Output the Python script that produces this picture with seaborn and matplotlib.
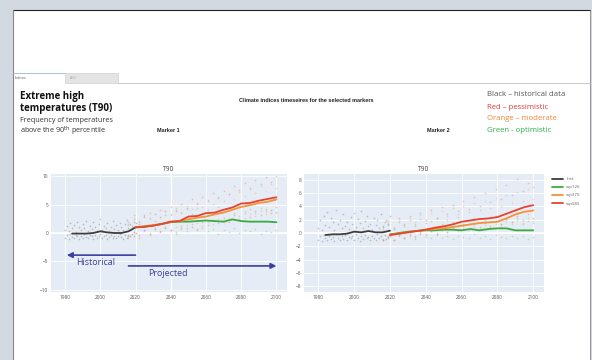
import numpy as np
import pandas as pd
import matplotlib.pyplot as plt
import seaborn as sns
from matplotlib.patches import Rectangle
from matplotlib.lines import Line2D

# running-mean lines
HIST_YEARS = [1984, 1988, 1992, 1996, 2000, 2004, 2008, 2012, 2016, 2020]
PROJ_YEARS = list(range(2020, 2101, 5))

m1_hist = [-0.1, -0.1, -0.1, 0.0, 0.3, 0.1, 0.0, 0.0, 0.3, 1.0]
m1_ssp126 = [1.0, 1.1, 1.3, 1.6, 1.9, 2.0, 2.0, 2.1, 2.2, 2.1, 2.0, 2.4, 2.1, 2.0, 2.0, 2.0, 1.9]
m1_ssp370 = [1.0, 1.2, 1.4, 1.6, 2.0, 2.1, 2.4, 2.7, 2.9, 3.3, 3.6, 4.1, 4.6, 4.9, 5.3, 5.5, 5.9]
m1_ssp585 = [1.0, 1.1, 1.3, 1.6, 2.0, 2.1, 2.9, 3.0, 3.5, 3.6, 4.1, 4.5, 5.2, 5.3, 5.7, 6.0, 6.3]

m2_hist = [-0.3, -0.2, -0.2, -0.1, 0.2, 0.1, 0.3, 0.1, 0.1, 0.35]
m2_ssp126 = [-0.2, 0.0, 0.2, 0.3, 0.4, 0.4, 0.5, 0.5, 0.4, 0.6, 0.4, 0.6, 0.7, 0.7, 0.4, 0.4, 0.4]
m2_ssp370 = [-0.3, -0.1, 0.1, 0.3, 0.5, 0.6, 0.7, 0.9, 1.1, 1.3, 1.5, 1.6, 1.7, 2.2, 2.8, 3.2, 3.4]
m2_ssp585 = [-0.3, -0.1, 0.1, 0.3, 0.5, 0.8, 1.0, 1.3, 1.7, 1.9, 2.1, 2.2, 2.4, 2.9, 3.4, 3.9, 4.2]

# scattered yearly values (two readings per year)
PT_HIST_YEARS = list(range(1980, 2021))
PT_PROJ_YEARS = list(range(2016, 2101, 3))

m1_pts_hist_a = [0.6, 1.2, 0.3, 1.8, 0.9, 1.4, 0.2, 2.0, 1.1, 0.5, 1.6, 0.8, 2.2, 0.4, 1.3, 0.7, 1.9, 1.0, 0.3, 1.5, 2.4,
                 0.6, 1.2, 0.9, 1.7, 0.4, 1.1, 2.1, 0.7, 1.4, 0.5, 1.8, 1.0, 0.6, 1.5, 2.3, 0.9, 1.6, 1.2, 2.0, 1.8]
m1_pts_hist_b = [-0.8, -0.4, -1.0, -0.2, -0.7, -0.9, -0.3, -0.6, -1.0, -0.5, -0.8, -0.1, -0.7, -0.9, -0.4, -0.6, -1.0,
                 -0.3, -0.8, -0.5, -0.2, -0.9, -0.6, -0.4, -1.0, -0.7, -0.3, -0.8, -0.5, -0.9, -0.6, -0.2, -0.7, -1.0,
                 -0.4, -0.8, -0.3, -0.6, -0.1, -0.5, 0.0]
m1_pts_585_a = [2.0, 3.2, 1.5, 2.8, 3.5, 2.2, 4.0, 3.1, 4.6, 3.8, 5.2, 4.4, 6.0, 5.1, 6.3, 5.6, 7.0, 6.2, 7.4, 6.8, 8.2,
                7.5, 8.8, 7.9, 9.3, 8.6, 9.8, 9.0, 10.0]
m1_pts_585_b = [-0.6, 0.2, -0.8, 0.5, -0.3, 0.8, 0.1, 1.0, 0.6, -0.2, 1.2, 0.9, 1.6, 0.7, 2.0, 1.4, 2.3, 1.7, 2.6, 2.0,
                3.1, 2.4, 3.5, 2.9, 3.9, 3.2, 4.3, 3.6, 4.6]
m1_pts_370_a = [1.6, 2.6, 2.1, 3.0, 2.4, 3.4, 2.8, 3.9, 3.3, 4.4, 3.7, 4.8, 4.2, 5.3, 4.6, 5.9, 5.1, 6.3, 5.6, 6.8, 6.0,
                7.3, 6.5, 7.8, 7.0, 8.2, 7.4, 8.6, 7.9]
m1_pts_370_b = [-0.9, 0.0, -0.5, 0.4, -0.2, 0.6, 0.3, 0.9, 0.5, 1.1, 0.7, 1.4, 1.0, 1.7, 1.3, 2.0, 1.6, 2.4, 1.9, 2.7,
                2.3, 3.0, 2.6, 3.4, 3.0, 3.8, 3.3, 4.1, 3.6]
m1_pts_126_a = [1.4, 2.5, 2.0, 3.1, 2.6, 3.4, 2.9, 3.8, 3.2, 4.0, 3.5, 4.2, 3.3, 4.4, 3.6, 4.1, 3.4, 4.5, 3.7, 4.2, 3.5,
                4.6, 3.8, 4.3, 3.6, 4.4, 3.9, 4.1, 3.7]
m1_pts_126_b = [-0.7, 0.1, -0.4, 0.5, 0.0, 0.7, 0.3, 0.9, 0.6, 0.2, 0.8, 0.4, 1.0, 0.5, 0.9, 0.3, 0.7, -0.1, 0.6, 0.2,
                0.8, 0.0, 0.5, 0.3, 0.7, -0.2, 0.4, 0.1, 0.6]

m2_pts_hist_a = [0.8, 1.9, 0.5, 2.6, 1.2, 3.1, 0.9, 2.2, 1.6, 0.4, 3.4, 1.3, 2.0, 0.7, 2.8, 1.1, 1.7, 0.6, 2.4, 1.4, 3.0,
                 0.9, 2.1, 1.5, 3.3, 0.8, 1.8, 2.6, 1.0, 1.4, 0.5, 2.3, 1.2, 1.9, 0.7, 2.9, 1.1, 1.6, 2.0, 1.3, 2.5]
m2_pts_hist_b = [-1.0, -0.5, -1.2, -0.3, -0.8, -1.1, -0.4, -0.9, -0.6, -1.2, -0.2, -0.7, -1.0, -0.5, -0.9, -0.3, -1.1,
                 -0.6, -0.8, -0.4, -1.0, -0.2, -0.7, -1.2, -0.5, -0.9, -0.3, -0.8, -0.6, -1.1, -0.4, -0.7, -1.0, -0.2,
                 -0.8, -0.5, -1.1, -0.3, -0.9, -0.6, -0.4]
m2_pts_585_a = [0.9, 1.8, 0.6, 2.2, 1.4, 2.6, 1.1, 3.0, 1.9, 3.4, 2.3, 3.9, 2.8, 4.2, 3.3, 4.8, 3.6, 5.4, 4.1, 6.0, 4.7,
                6.6, 5.2, 7.2, 5.8, 8.2, 6.4, 7.6, 6.9]
m2_pts_585_b = [-1.1, -0.7, -1.0, -0.4, -0.8, -0.2, -0.6, 0.0, -0.3, 0.3, -0.1, 0.5, 0.2, 0.8, 0.4, 1.0, 0.6, 1.3, 0.9,
                1.5, 1.1, 1.8, 1.4, 2.1, 1.7, 2.5, 2.0, 2.8, 2.3]
m2_pts_370_a = [0.7, 1.5, 0.9, 1.9, 1.2, 2.3, 1.6, 2.7, 1.9, 3.0, 2.2, 3.3, 2.5, 3.7, 2.8, 4.1, 3.1, 4.5, 3.4, 4.9, 3.8,
                5.3, 4.1, 5.8, 4.5, 6.2, 4.9, 6.6, 5.2]
m2_pts_370_b = [-1.0, -0.6, -1.1, -0.3, -0.7, -0.1, -0.5, 0.1, -0.2, 0.3, 0.0, 0.4, 0.2, 0.6, 0.3, 0.8, 0.5, 1.0, 0.7,
                1.2, 0.9, 1.4, 1.1, 1.7, 1.3, 2.0, 1.5, 2.2, 1.8]
m2_pts_126_a = [0.5, 1.2, 0.8, 1.6, 1.0, 1.9, 1.3, 2.1, 1.5, 1.8, 2.3, 1.4, 2.0, 1.7, 2.4, 1.3, 1.9, 2.2, 1.5, 2.0, 1.7,
                2.5, 1.4, 1.9, 1.6, 2.2, 1.3, 1.8, 1.5]
m2_pts_126_b = [-0.9, -0.5, -1.0, -0.3, -0.7, -0.4, -0.9, -0.2, -0.6, -0.8, -0.3, -0.7, -0.5, -0.9, -0.4, -0.6, -0.8,
                -0.2, -0.7, -0.5, -0.9, -0.3, -0.6, -0.8, -0.4, -0.7, -0.5, -0.9, -0.6]

X_TICKS = [1980, 2000, 2020, 2040, 2060, 2080, 2100]
M1_Y_TICKS = [-10, -5, 0, 5, 10]
M2_Y_TICKS = [-8, -6, -4, -2, 0, 2, 4, 6, 8]

COLORS = {"hist": "#3d3d3d", "ssp126": "#3aac3f", "ssp370": "#f5923a", "ssp585": "#e8432d"}
PT_COLORS = {"hist": "#8a8a8a", "ssp126": "#7fcf7f", "ssp370": "#f7b27a", "ssp585": "#f08a7a"}
ARROW_BLUE = "#3c3f9c"

W, H = 592, 360


def fx(x):
    return x / W


def fy(y):
    return 1 - y / H


sns.set_theme(style="darkgrid", rc={"axes.facecolor": "#e5ecf6", "grid.color": "white", "grid.linewidth": 0.6})
plt.rcParams['font.family'] = ['Open Sans', 'DejaVu Sans']

fig = plt.figure(figsize=(W / 100, H / 100), dpi=100, facecolor="#d3d9e0")

# slide panel
fig.add_artist(Rectangle((fx(12.5), 0), fx(590) - fx(12.5), fy(9.5), transform=fig.transFigure,
                         facecolor="white", edgecolor="none", zorder=0))
fig.add_artist(Line2D([fx(12.5), fx(590)], [fy(9.5), fy(9.5)], transform=fig.transFigure, color="#222222", lw=0.8))
fig.add_artist(Line2D([fx(12.5), fx(12.5)], [0, fy(9.5)], transform=fig.transFigure, color="#888888", lw=0.8))
fig.add_artist(Line2D([fx(590), fx(590)], [0, fy(9.5)], transform=fig.transFigure, color="#888888", lw=0.6))

# tabs
fig.add_artist(Rectangle((fx(65), fy(82.5)), fx(118) - fx(65), fy(73) - fy(82.5), transform=fig.transFigure,
                         facecolor="#e4e4e4", edgecolor="#c8c8c8", lw=0.4))
fig.add_artist(Line2D([fx(13), fx(65)], [fy(73), fy(73)], transform=fig.transFigure, color="#8fb8e0", lw=0.6))
fig.add_artist(Line2D([fx(118), fx(590)], [fy(82.5), fy(82.5)], transform=fig.transFigure, color="#c0c0c0", lw=0.6))
fig.text(fx(15), fy(78), "Indices", fontsize=2.6, color="#555555", va="center")
fig.text(fx(70), fy(78), "ACI", fontsize=2.6, color="#999999", va="center")

# headings
fig.text(fx(20), fy(96), "Extreme high", fontsize=7.0, fontweight="bold", color="#111111", va="center")
fig.text(fx(20), fy(108), "temperatures (T90)", fontsize=7.0, fontweight="bold", color="#111111", va="center")
fig.text(fx(20), fy(121), "Frequency of temperatures", fontsize=5.2, color="#333333", va="center")
fig.text(fx(20), fy(131), "above the 90$^{\\mathrm{th}}$ percentile", fontsize=5.2, color="#333333", va="center")
fig.text(fx(306), fy(100), "Climate indices timeseires for the selected markers", fontsize=4.0,
         fontweight="bold", color="#222222", ha="center", va="center", family="Liberation Sans")
fig.text(fx(157), fy(131), "Marker 1", fontsize=4.0, fontweight="bold", color="#222222", va="center",
         family="Liberation Sans")
fig.text(fx(427), fy(131), "Marker 2", fontsize=4.0, fontweight="bold", color="#222222", va="center",
         family="Liberation Sans")
key_lines = [("Black \u2013 historical data", "#555555", 95), ("Red \u2013 pessimistic", "#e03a3a", 107),
             ("Orange \u2013 moderate", "#f2873a", 119), ("Green - optimistic", "#2fae4c", 131)]
for txt, col, yy in key_lines:
    fig.text(fx(487), fy(yy), txt, fontsize=5.6, color=col, va="center")

ax1 = fig.add_axes([fx(51), fy(292), fx(287) - fx(51), fy(174) - fy(292)])
ax2 = fig.add_axes([fx(304), fy(292), fx(544) - fx(304), fy(174) - fy(292)])

panels = [
    (ax1, m1_hist, m1_ssp126, m1_ssp370, m1_ssp585,
     [m1_pts_hist_a, m1_pts_hist_b], [m1_pts_126_a, m1_pts_126_b], [m1_pts_370_a, m1_pts_370_b],
     [m1_pts_585_a, m1_pts_585_b], M1_Y_TICKS, (-10.4, 10.4)),
    (ax2, m2_hist, m2_ssp126, m2_ssp370, m2_ssp585,
     [m2_pts_hist_a, m2_pts_hist_b], [m2_pts_126_a, m2_pts_126_b], [m2_pts_370_a, m2_pts_370_b],
     [m2_pts_585_a, m2_pts_585_b], M2_Y_TICKS, (-8.9, 8.9)),
]

for ax, hist, s126, s370, s585, p_hist, p126, p370, p585, yticks, ylim in panels:
    ax.axhline(0, color="white", lw=1.2, zorder=0.5)
    for vals in p_hist:
        sns.scatterplot(x=PT_HIST_YEARS, y=vals, ax=ax, s=1.4, color=PT_COLORS["hist"], alpha=0.5,
                        linewidth=0, legend=False)
    for key, pts in (("ssp126", p126), ("ssp370", p370), ("ssp585", p585)):
        for vals in pts:
            sns.scatterplot(x=PT_PROJ_YEARS, y=vals, ax=ax, s=1.4, color=PT_COLORS[key], alpha=0.5,
                            linewidth=0, legend=False)
    sns.lineplot(x=HIST_YEARS, y=hist, ax=ax, color=COLORS["hist"], lw=1.3, label="hist")
    sns.lineplot(x=PROJ_YEARS, y=s126, ax=ax, color=COLORS["ssp126"], lw=1.3, label="ssp126")
    sns.lineplot(x=PROJ_YEARS, y=s370, ax=ax, color=COLORS["ssp370"], lw=1.3, label="ssp370")
    sns.lineplot(x=PROJ_YEARS, y=s585, ax=ax, color=COLORS["ssp585"], lw=1.3, label="ssp585")
    ax.set_xlim(1972, 2106)
    ax.set_ylim(*ylim)
    ax.set_xticks(X_TICKS)
    ax.set_yticks(yticks)
    ax.tick_params(labelsize=3.4, colors="#555555", length=0, pad=2)
    ax.set_xlabel("")
    ax.set_ylabel("")
    ax.set_title("T90", fontsize=4.8, color="#444444", pad=2)
    for sp in ax.spines.values():
        sp.set_visible(False)

ax1.get_legend().remove()
ax1.axvline(2040, color="white", lw=1.0, zorder=0.5)
leg = ax2.legend(loc="upper left", bbox_to_anchor=(1.02, 1.0), fontsize=3.2, frameon=False,
                 handlelength=2.4, labelspacing=0.9, borderaxespad=0.3)
for t in leg.get_texts():
    t.set_color("#666666")

# Historical / Projected arrows
HIST_SPAN = (2020, 1981)
PROJ_SPAN = (2016, 2100)
ax1.annotate("", xy=(HIST_SPAN[1], -3.9), xytext=(HIST_SPAN[0], -3.9),
             arrowprops=dict(arrowstyle="-|>", color=ARROW_BLUE, lw=1.2, mutation_scale=8, shrinkA=0, shrinkB=0))
ax1.annotate("", xy=(PROJ_SPAN[1], -5.8), xytext=(PROJ_SPAN[0], -5.8),
             arrowprops=dict(arrowstyle="-|>", color=ARROW_BLUE, lw=1.2, mutation_scale=8, shrinkA=0, shrinkB=0))
ax1.text(1986, -5.2, "Historical", fontsize=6.4, color=ARROW_BLUE, va="center")
ax1.text(2027, -7.1, "Projected", fontsize=6.4, color=ARROW_BLUE, va="center")

fig.savefig("out.png", dpi=100, facecolor=fig.get_facecolor())
